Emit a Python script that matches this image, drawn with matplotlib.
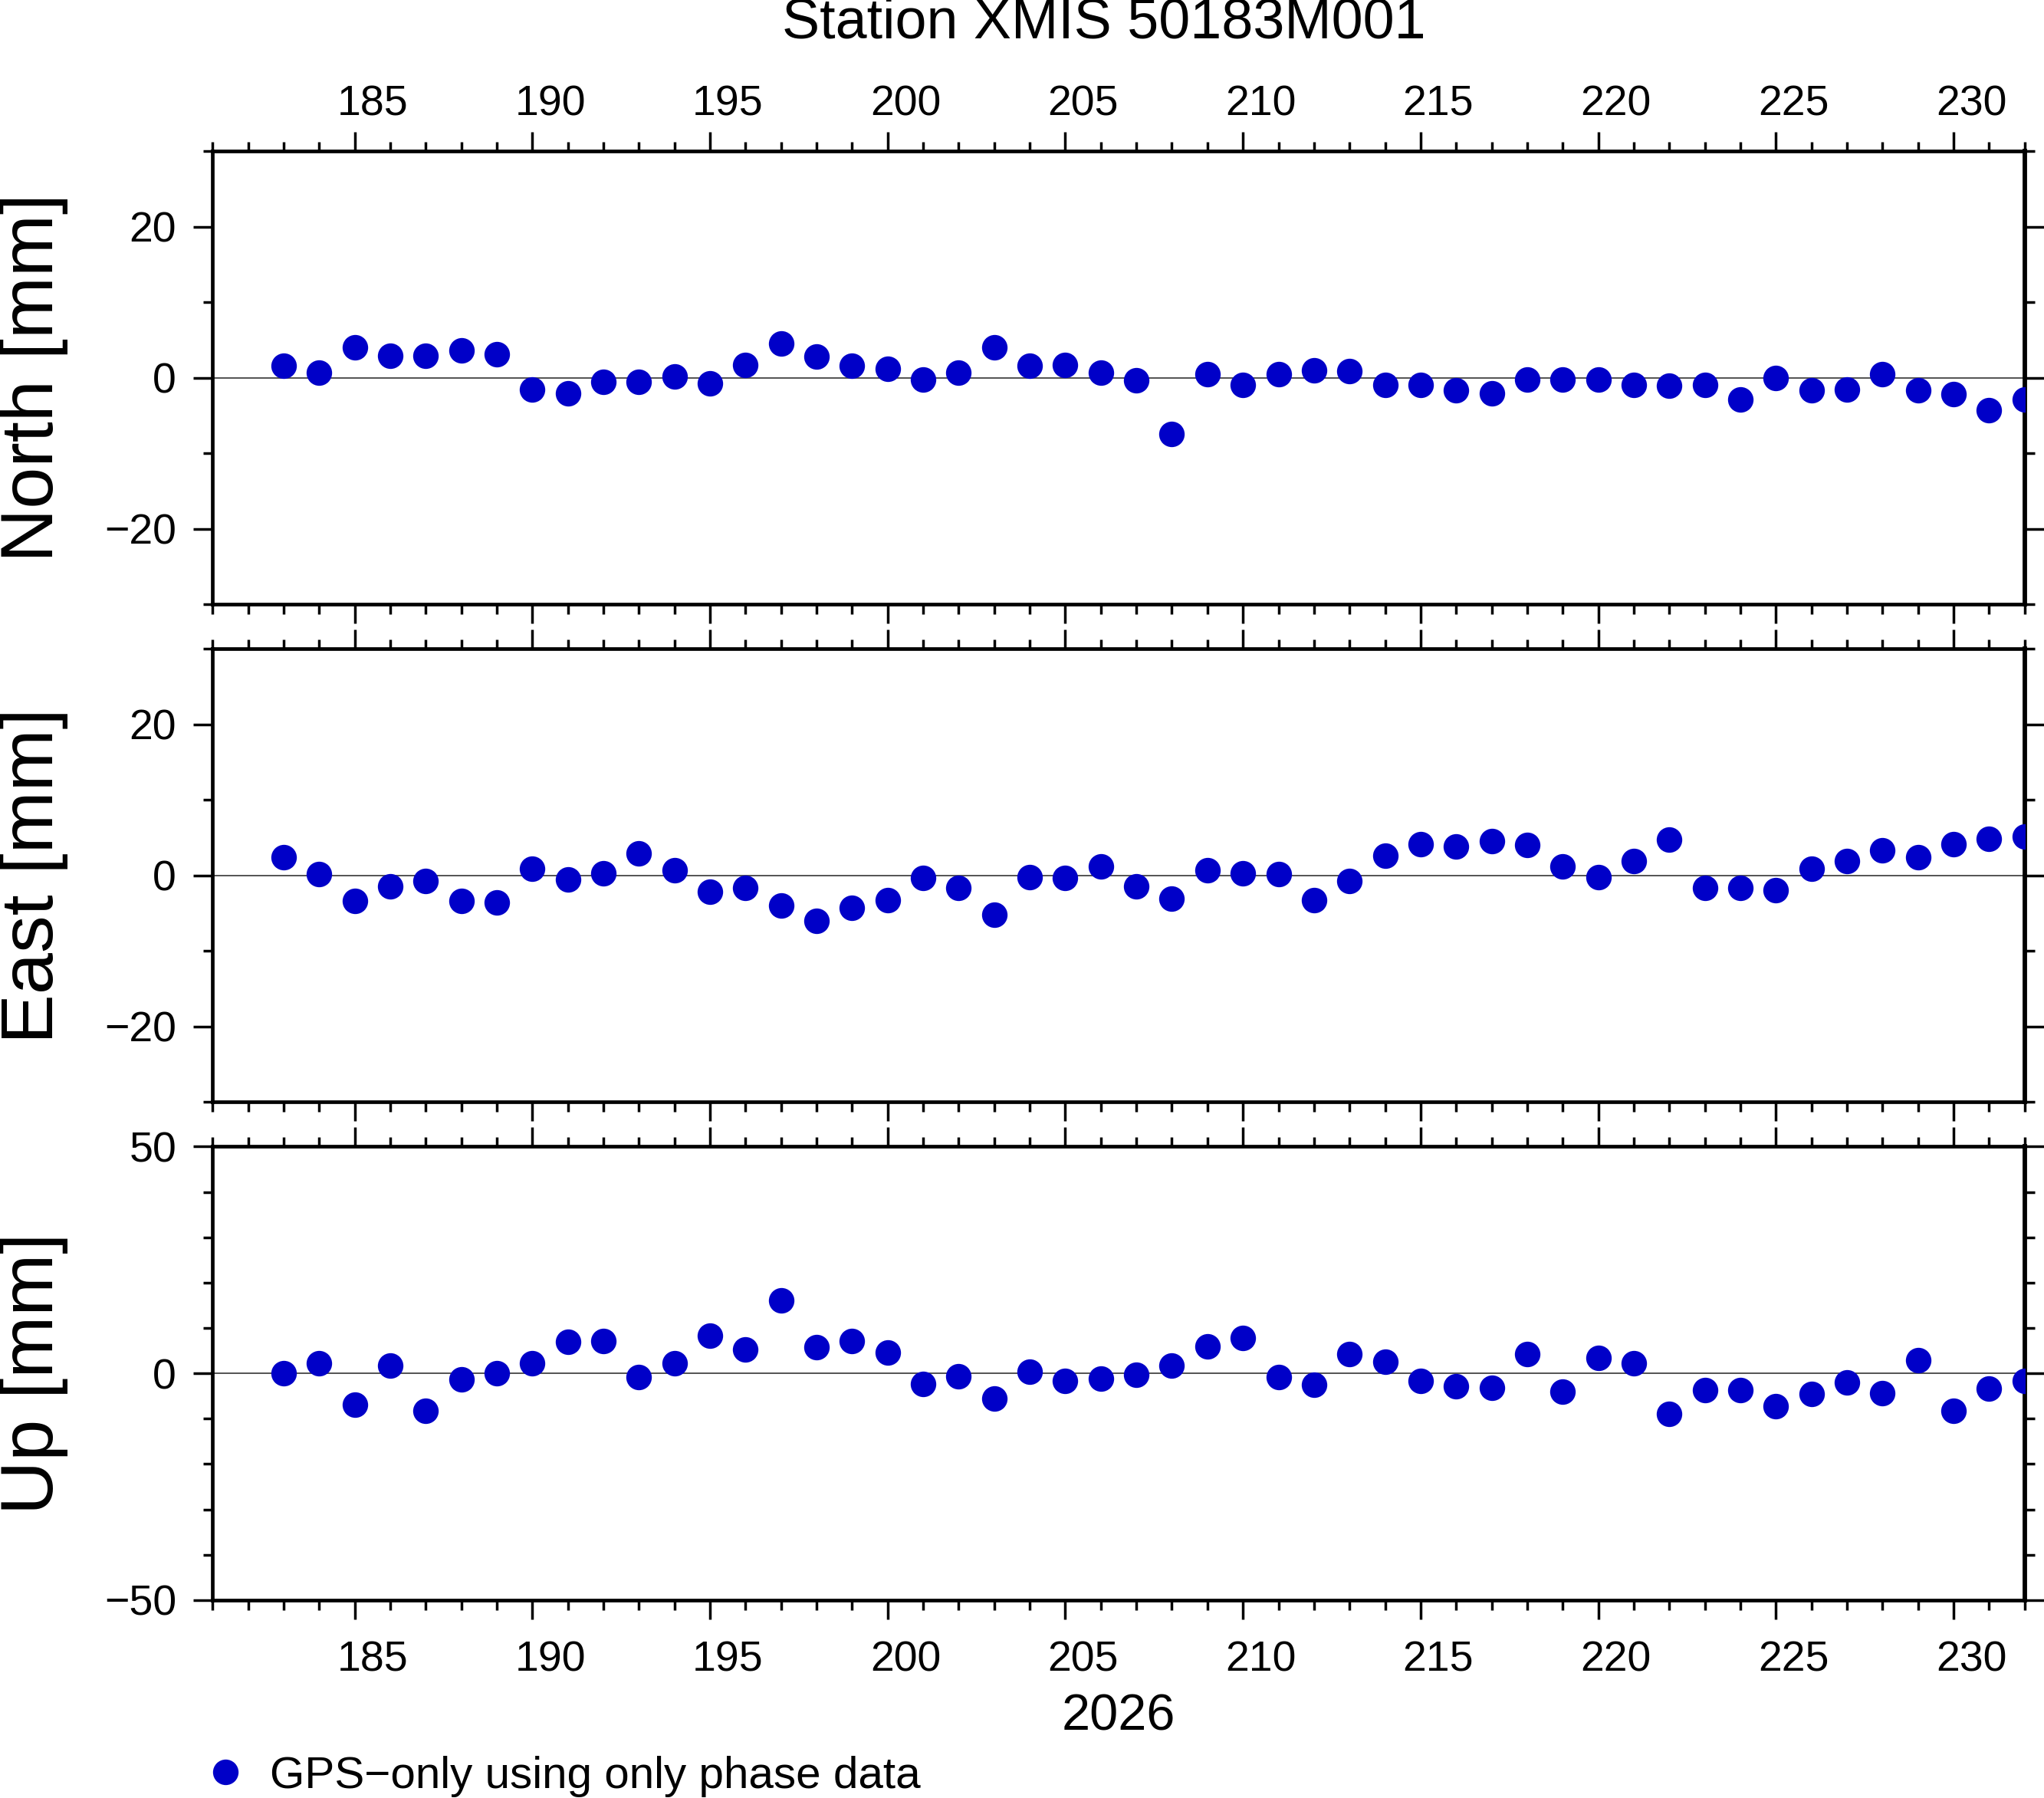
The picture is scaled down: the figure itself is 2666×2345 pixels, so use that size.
import numpy as np
import matplotlib
matplotlib.use("Agg")
import matplotlib.pyplot as plt

plt.rcParams['font.family'] = ['Liberation Sans', 'DejaVu Sans']

# day of year 2026
days = np.arange(183, 233)

north = [1.6, 0.7, 4.0, 2.9, 2.9, 3.6, 3.1, -1.6, -2.1, -0.5,
         -0.5, 0.2, -0.7, 1.7, 4.5, 2.8, 1.6, 1.2, -0.2, 0.7,
         4.0, 1.6, 1.7, 0.7, -0.3, -7.4, 0.5, -0.9, 0.5, 1.0,
         0.9, -0.9, -0.9, -1.7, -2.1, -0.2, -0.2, -0.2, -0.9, -1.0,
         -0.9, -2.9, 0.0, -1.7, -1.6, 0.5, -1.7, -2.2, -4.3, -2.9]

east = [2.4, 0.2, -3.4, -1.4, -0.7, -3.4, -3.6, 0.9, -0.5, 0.3,
        2.9, 0.7, -2.2, -1.6, -4.0, -6.0, -4.3, -3.3, -0.3, -1.6,
        -5.2, -0.2, -0.3, 1.2, -1.4, -3.1, 0.7, 0.3, 0.2, -3.3,
        -0.7, 2.6, 4.1, 3.8, 4.5, 4.0, 1.2, -0.2, 1.9, 4.7,
        -1.6, -1.6, -1.9, 0.9, 1.9, 3.3, 2.4, 4.1, 4.8, 5.2]

up = [0.0, 2.3, -6.9, 1.7, -8.3, -1.4, 0.0, 2.3, 6.9, 7.2,
      -0.9, 2.3, 8.3, 5.2, 16.1, 5.7, 7.2, 4.6, -2.3, -0.6,
      -5.5, 0.3, -1.7, -1.1, -0.3, 1.7, 6.0, 7.8, -0.9, -2.6,
      4.3, 2.6, -1.7, -2.9, -3.2, 4.3, -4.0, 3.4, 2.3, -8.9,
      -3.7, -3.7, -7.2, -4.6, -2.0, -4.3, 2.9, -8.3, -3.4, -1.7]

# name, values, axis limit, labelled ticks, minor step
panels = [("North [mm]", north, 30, [-20, 0, 20], 10),
          ("East [mm]", east, 30, [-20, 0, 20], 10),
          ("Up [mm]", up, 50, [-50, 0, 50], 10)]

label_days = np.arange(185, 231, 5)
blue = "#0000c8"

fig = plt.figure(figsize=(26.66, 23.45), dpi=100)

left, width, height = 0.104, 0.8865, 0.2522
bottoms = [0.6638, 0.3870, 0.1101]

for i, (name, vals, lim, yticks, minor) in enumerate(panels):
    ax = fig.add_axes([left, bottoms[i], width, height])
    ax.axhline(0, color="#444444", lw=1.3, zorder=1)
    pts, = ax.plot(days, vals, "o", color=blue, ms=24, mew=0, zorder=3,
                   label="GPS\u2212only using only phase data")
    ax.set_xlim(181, 232)
    ax.set_ylim(-lim, lim)
    ax.set_xticks(np.arange(185, 232, 5))
    ax.set_xticks(np.arange(181, 233, 1), minor=True)
    ax.set_yticks(yticks)
    ax.set_yticks(np.arange(-lim, lim + 1, minor), minor=True)
    ax.tick_params(axis="both", which="both", direction="out",
                   top=True, bottom=True, left=True, right=True,
                   labelbottom=False, labeltop=False, width=2.5)
    ax.tick_params(axis="both", which="major", length=18)
    ax.tick_params(axis="both", which="minor", length=9)
    ax.tick_params(axis="y", labelsize=40, pad=16)
    for s in ax.spines.values():
        s.set_linewidth(3.4)
    ax.spines["right"].set_linewidth(4.2)

    fig.text(0.0166, bottoms[i] + height / 2, name, rotation=90,
             ha="center", va="center", fontsize=70)

    # day labels sit in the middle of each day interval
    if i == 0:
        sec = ax.secondary_xaxis("top")
        sec.set_xticks(label_days + 0.5, labels=[str(d) for d in label_days])
        sec.tick_params(length=0, labelsize=40, pad=25)
        sec.spines["top"].set_visible(False)
    if i == 2:
        sec = ax.secondary_xaxis("bottom")
        sec.set_xticks(label_days + 0.5, labels=[str(d) for d in label_days])
        sec.tick_params(length=0, labelsize=40, pad=38)
        sec.spines["bottom"].set_visible(False)
        sec.set_xlabel("2026", fontsize=48, labelpad=12)

fig.text(0.54, 0.987, "Station XMIS 50183M001", ha="center", va="center",
         fontsize=53)

fig.legend(handles=[pts], loc="center left", bbox_to_anchor=(0.1015, 0.012),
           frameon=False, fontsize=42, handlelength=0.8, handletextpad=0.6,
           borderpad=0, borderaxespad=0)

fig.savefig("out.png", dpi=100)
